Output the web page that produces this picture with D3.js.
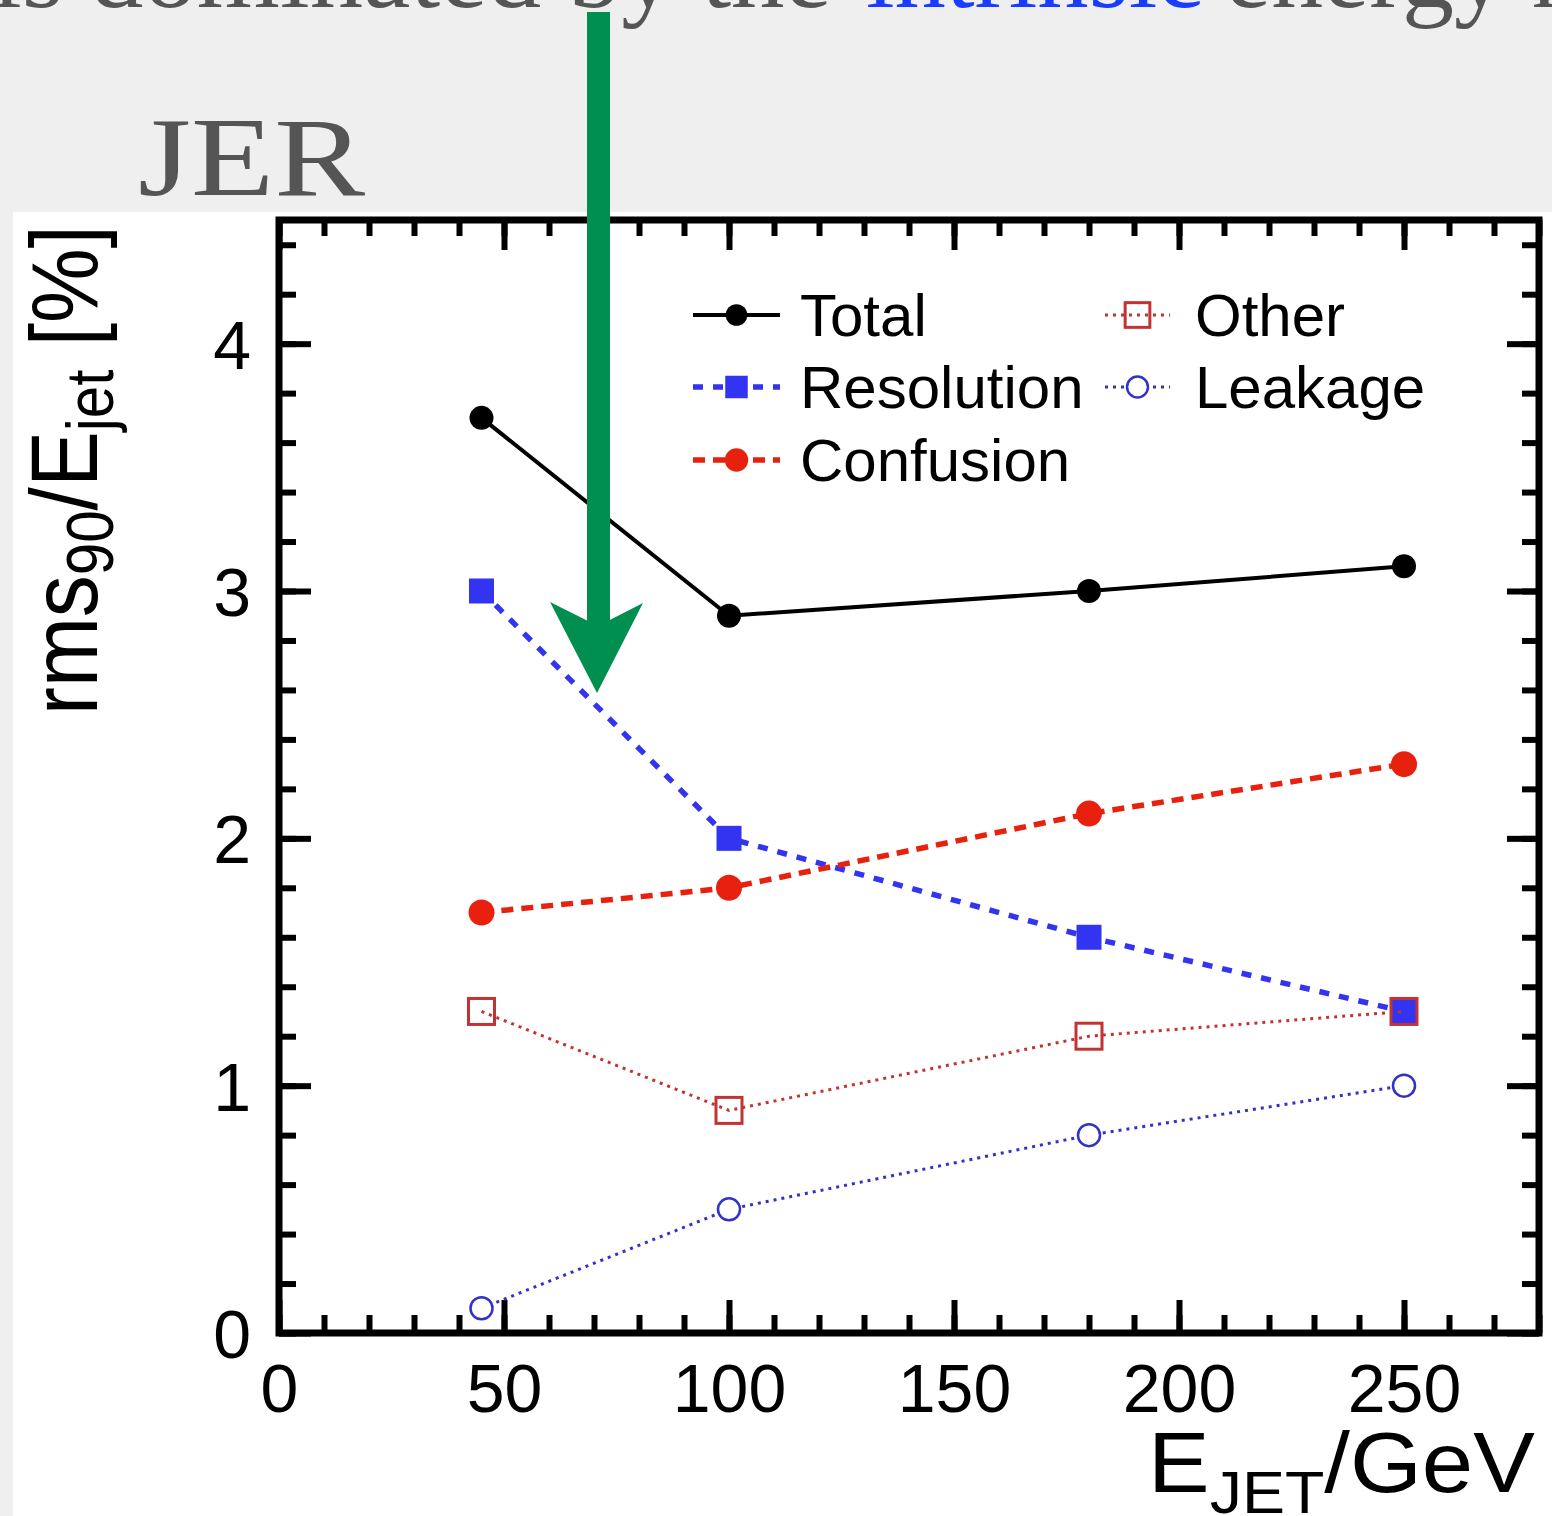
<!DOCTYPE html>
<html>
<head>
<meta charset="utf-8">
<script src="https://cdn.jsdelivr.net/npm/d3@7"></script>
<style>
  html, body { margin: 0; padding: 0; background: #efefef; overflow: hidden; }
  svg { display: block; }
</style>
</head>
<body>
<div id="chart"></div>
<script>
// page size
const width = 1552;
const height = 1516;

// data
const energies = [45, 100, 180, 250];
const total = [3.7, 2.9, 3.0, 3.1];
const resolution = [3.0, 2.0, 1.6, 1.3];
const confusion = [1.7, 1.8, 2.1, 2.3];
const other = [1.3, 0.9, 1.2, 1.3];
const leakage = [0.1, 0.5, 0.8, 1.0];

const seriesNames = ["Total", "Resolution", "Confusion", "Other", "Leakage"];
const xTicks = [0, 50, 100, 150, 200, 250];
const yTicks = [0, 1, 2, 3, 4];

// styles per series
const styles = {
  "Total":      {color: "#000000", width: 4,   dash: null,    marker: "dot",    size: 12, fill: true},
  "Resolution": {color: "#3333f2", width: 5.5, dash: "10,10", marker: "square", size: 25, fill: true},
  "Confusion":  {color: "#e8210f", width: 5.5, dash: "12,8",  marker: "dot",    size: 13, fill: true},
  "Other":      {color: "#c23434", width: 3,   dash: "3,5",   marker: "square", size: 26, fill: false},
  "Leakage":    {color: "#3232c8", width: 3,   dash: "3,5",   marker: "dot",    size: 11, fill: false}
};

const seriesValues = {
  "Total": total,
  "Resolution": resolution,
  "Confusion": confusion,
  "Other": other,
  "Leakage": leakage
};

const svg = d3.select("#chart")
  .append("svg")
  .attr("width", width)
  .attr("height", height);

/* SLIDE BACKGROUND */

svg.append("rect")
  .attr("width", width)
  .attr("height", height)
  .attr("fill", "#efefef");

// slide sentence, mostly cut off at the top
const headline = svg.append("g")
  .style("font-family", "'Liberation Serif', 'DejaVu Serif', serif")
  .style("font-size", "104px");
headline.append("text").attr("x", -8).attr("y", 7).attr("fill", "#555")
  .attr("textLength", 840).attr("lengthAdjust", "spacingAndGlyphs")
  .text("is dominated by the");
headline.append("text").attr("x", 866).attr("y", 7).attr("fill", "#1a3cff")
  .attr("textLength", 337).attr("lengthAdjust", "spacingAndGlyphs")
  .text("intrinsic");
headline.append("text").attr("x", 1225).attr("y", 7).attr("fill", "#555")
  .text("energy resolution");

svg.append("text")
  .attr("x", 138)
  .attr("y", 195)
  .attr("fill", "#555")
  .attr("textLength", 227)
  .attr("lengthAdjust", "spacingAndGlyphs")
  .style("font-family", "'Liberation Serif', 'DejaVu Serif', serif")
  .style("font-size", "113px")
  .text("JER");

// white picture panel
svg.append("rect")
  .attr("x", 13)
  .attr("y", 212)
  .attr("width", width)
  .attr("height", height)
  .attr("fill", "#ffffff");

/* PLOT */

const x = d3.scaleLinear().domain([0, 280]).range([279, 1539]);
const y = d3.scaleLinear().domain([0, 4.5]).range([1333, 220]);

const plot = svg.append("g");
const font = "'Liberation Sans', Arial, Helvetica, sans-serif";

// minor ticks, all four sides, pointing inward
plot.append("g").attr("transform", `translate(0,${y(0)})`)
  .call(d3.axisBottom(x).tickValues(d3.range(0, 281, 10)).tickSizeInner(-18).tickSizeOuter(0).tickFormat(""));
plot.append("g").attr("transform", `translate(0,${y(4.5)})`)
  .call(d3.axisTop(x).tickValues(d3.range(0, 281, 10)).tickSizeInner(-16).tickSizeOuter(0).tickFormat(""));
plot.append("g").attr("transform", `translate(${x(0)},0)`)
  .call(d3.axisLeft(y).tickValues(d3.range(0, 4.5, 0.2)).tickSizeInner(-17).tickSizeOuter(0).tickFormat(""));
plot.append("g").attr("transform", `translate(${x(280)},0)`)
  .call(d3.axisRight(y).tickValues(d3.range(0, 4.5, 0.2)).tickSizeInner(-17).tickSizeOuter(0).tickFormat(""));

// major ticks with labels
const xAxis = plot.append("g").attr("transform", `translate(0,${y(0)})`)
  .call(d3.axisBottom(x).tickValues(xTicks).tickSizeInner(-33).tickSizeOuter(0).tickPadding(30).tickFormat(d3.format("d")));
plot.append("g").attr("transform", `translate(0,${y(4.5)})`)
  .call(d3.axisTop(x).tickValues(xTicks).tickSizeInner(-30).tickSizeOuter(0).tickFormat(""));
const yAxis = plot.append("g").attr("transform", `translate(${x(0)},0)`)
  .call(d3.axisLeft(y).tickValues(yTicks).tickSizeInner(-32).tickSizeOuter(0).tickPadding(28).tickFormat(d3.format("d")));
plot.append("g").attr("transform", `translate(${x(280)},0)`)
  .call(d3.axisRight(y).tickValues(yTicks).tickSizeInner(-32).tickSizeOuter(0).tickFormat(""));

plot.selectAll(".domain").remove();
plot.selectAll(".tick line").attr("stroke", "#000").attr("stroke-width", 6);
plot.selectAll(".tick text")
  .attr("fill", "#000")
  .style("font-family", font)
  .style("font-size", "68px");
xAxis.selectAll(".tick text").attr("dy", "0.72em");
yAxis.selectAll(".tick text").attr("dy", "0.36em");

// frame
plot.append("rect")
  .attr("x", x(0))
  .attr("y", y(4.5))
  .attr("width", x(280) - x(0))
  .attr("height", y(0) - y(4.5))
  .attr("fill", "none")
  .attr("stroke", "#000")
  .attr("stroke-width", 7);

// draw one marker
function drawMarker(g, name, cx, cy, scale) {
  const s = styles[name];
  const k = scale || 1;
  if (s.marker === "dot") {
    g.append("circle")
      .attr("cx", cx).attr("cy", cy).attr("r", s.size * k)
      .attr("fill", s.fill ? s.color : "#fff")
      .attr("stroke", s.color)
      .attr("stroke-width", s.fill ? 0 : 2.5);
  } else {
    const a = s.size * k;
    g.append("rect")
      .attr("x", cx - a / 2).attr("y", cy - a / 2).attr("width", a).attr("height", a)
      .attr("fill", s.fill ? s.color : "none")
      .attr("stroke", s.color)
      .attr("stroke-width", s.fill ? 0 : 3);
  }
}

const line = d3.line()
  .x(d => x(d[0]))
  .y(d => y(d[1]));

seriesNames.forEach(name => {
  const s = styles[name];
  const pts = energies.map((e, i) => [e, seriesValues[name][i]]);
  const g = plot.append("g");
  g.append("path")
    .datum(pts)
    .attr("d", line)
    .attr("fill", "none")
    .attr("stroke", s.color)
    .attr("stroke-width", s.width)
    .attr("stroke-dasharray", s.dash);
  pts.forEach(p => drawMarker(g, name, x(p[0]), y(p[1])));
});

/* LEGEND */

const legendRows = [315, 387, 460];
const legend = plot.append("g");
seriesNames.forEach((name, i) => {
  const s = styles[name];
  const col = i < 3 ? 0 : 1;
  const row = i < 3 ? i : i - 3;
  const x0 = col === 0 ? 693 : 1105;
  const x1 = col === 0 ? 780 : 1170;
  const tx = col === 0 ? 800 : 1195;
  const cy = legendRows[row];
  legend.append("line")
    .attr("x1", x0).attr("x2", x1).attr("y1", cy).attr("y2", cy)
    .attr("stroke", s.color)
    .attr("stroke-width", s.width)
    .attr("stroke-dasharray", s.dash);
  drawMarker(legend, name, (x0 + x1) / 2, cy, s.fill ? 0.9 : 0.95);
  legend.append("text")
    .attr("x", tx)
    .attr("y", cy + 21)
    .attr("fill", "#000")
    .style("font-family", font)
    .style("font-size", "60px")
    .text(name);
});

/* AXIS TITLES */

// y title, rotated, squeezed to the length in the picture
const yTitle = svg.append("text")
  .attr("fill", "#000")
  .style("font-family", font)
  .style("font-size", "95px");
yTitle.append("tspan").text("rms");
yTitle.append("tspan").attr("dy", 16).style("font-size", "66px").text("90");
yTitle.append("tspan").attr("dy", -16).text("/E");
yTitle.append("tspan").attr("dy", 16).style("font-size", "66px").text("jet");
yTitle.append("tspan").attr("dy", -16).text(" [%]");
const yLen = yTitle.node().getComputedTextLength();
yTitle.attr("transform", `translate(97,715) rotate(-90) scale(${490 / yLen},1)`);

// x title, right aligned under the axis
const xTitle = svg.append("text")
  .attr("fill", "#000")
  .style("font-family", font)
  .style("font-size", "86px");
xTitle.append("tspan").text("E");
xTitle.append("tspan").attr("dy", 21).style("font-size", "60px").text("JET");
xTitle.append("tspan").attr("dy", -21).text("/GeV");
const xLen = xTitle.node().getComputedTextLength();
xTitle.attr("transform", `translate(1148,1492) scale(${387 / xLen},1)`);

/* GREEN ARROW */

const arrowGreen = "#008f4f";
svg.append("rect")
  .attr("x", 587)
  .attr("y", 12)
  .attr("width", 23)
  .attr("height", 620)
  .attr("fill", arrowGreen);
svg.append("path")
  .attr("d", d3.line()([[550, 602], [598, 626], [643, 603], [597, 693]]) + "Z")
  .attr("fill", arrowGreen);
</script>
</body>
</html>
